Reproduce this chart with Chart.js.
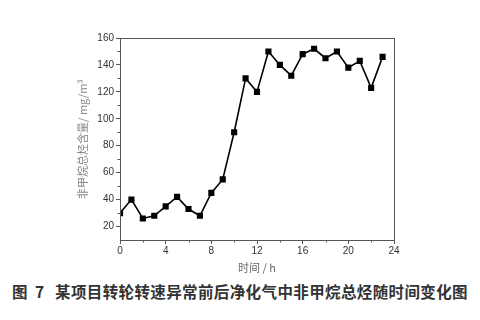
<!DOCTYPE html>
<html><head><meta charset="utf-8">
<script src="https://cdn.jsdelivr.net/npm/chart.js@4/dist/chart.umd.min.js"></script>
<style>html,body{margin:0;padding:0;background:#fff;}#wrap{width:480px;height:320px;position:relative;}
.cap{position:absolute;top:281px;font-family:"Noto Sans CJK SC",sans-serif;font-weight:bold;font-size:15.5px;color:#333;white-space:pre;line-height:20px;}
#cap1{left:12px;}#cap2{left:55px;}</style>
</head><body><div id="wrap"><canvas id="c" width="480" height="274"></canvas><span class="cap" id="cap1"></span><span class="cap" id="cap2"></span></div>
<script>
const hours = [0,1,2,3,4,5,6,7,8,9,10,11,12,13,14,15,16,17,18,19,20,21,22,23];
const nmhc = [30,40,26,28,35,42,33,28,45,55,90,130,120,150,140,132,148,152,145,150,138,143,123,146];
const xTicks = [0,4,8,12,16,20,24];
const yTicks = [20,40,60,80,100,120,140,160];
const yTitle = '非甲烷总烃含量/ mg/m³';
const xTitle = '时间 / h';
const figLabel = '图 7';
const caption = '某项目转轮转速异常前后净化气中非甲烷总烃随时间变化图';
const c1 = document.getElementById('cap1'), c2 = document.getElementById('cap2');
c1.textContent = figLabel; c1.style.letterSpacing = '2px';
c2.textContent = caption;
const w = c2.getBoundingClientRect().width;
c2.style.letterSpacing = ((413 - w) / caption.length) + 'px';

const frame = {
  id:'frame',
  afterDraw(chart){
    const {ctx, chartArea:a, scales} = chart;
    ctx.save();
    ctx.strokeStyle='#555'; ctx.lineWidth=1;
    ctx.strokeRect(a.left+0.5, a.top+0.5, a.right-a.left, a.bottom-a.top);
    ctx.beginPath();
    for(let v=2; v<24; v+=4){ const px=Math.round(scales.x.getPixelForValue(v))+0.5; ctx.moveTo(px,a.bottom); ctx.lineTo(px,a.bottom+2.5); }
    for(let v=30; v<160; v+=20){ const py=Math.round(scales.y.getPixelForValue(v))+0.5; ctx.moveTo(a.left,py); ctx.lineTo(a.left-2.5,py); }
    ctx.stroke();
    ctx.restore();
  }
};

new Chart(document.getElementById('c'), {
  type:'line',
  data:{ datasets:[{ data: hours.map((h,i)=>({x:h,y:nmhc[i]})), borderColor:'#000', backgroundColor:'#000', borderWidth:1.6, pointStyle:'rect', pointRadius:3.2, pointHoverRadius:3.2, tension:0 }]},
  options:{
    responsive:false, animation:false,
    layout:{padding:{left:76,right:86,top:38,bottom:0}},
    plugins:{ legend:{display:false}, tooltip:{enabled:false}, title:{display:false} },
    scales:{
      x:{ type:'linear', min:0, max:24,
        afterBuildTicks(s){ s.ticks = xTicks.map(v=>({value:v})); },
        afterFit(s){ s.height = 34; },
        grid:{display:true, drawOnChartArea:false, tickLength:4, color:'#555'},
        border:{display:true,color:'#555'},
        ticks:{color:'#333', font:{family:'"Liberation Sans", Arial, sans-serif', size:10}, padding:1, maxRotation:0},
        title:{display:true, text:xTitle, color:'#666', font:{family:'"Noto Sans CJK SC", sans-serif', size:11}, padding:{top:1,bottom:0}} },
      y:{ min:10, max:160,
        afterBuildTicks(s){ s.ticks = yTicks.map(v=>({value:v})); },
        afterFit(s){ s.width = 44; },
        grid:{display:true, drawOnChartArea:false, tickLength:4, color:'#555'},
        border:{display:true,color:'#555'},
        ticks:{color:'#333', font:{family:'"Liberation Sans", Arial, sans-serif', size:10}, padding:2},
        title:{display:true, text:yTitle, color:'#888', font:{family:'"Noto Sans CJK SC", sans-serif', size:11}, padding:{top:0,bottom:2}} }
    }
  },
  plugins:[frame]
});
</script></body></html>
